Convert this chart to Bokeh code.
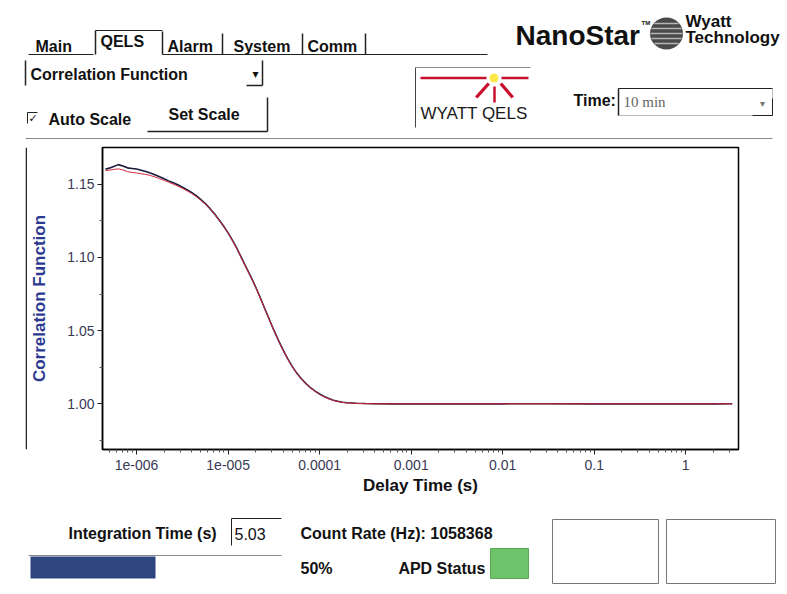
from bokeh.plotting import figure
from bokeh.layouts import column, row
from bokeh.models import FixedTicker, PrintfTickFormatter, Range1d
from bokeh.core.properties import value
from bokeh.embed import file_html
from bokeh.resources import INLINE

# ---------------- data ----------------
delay_time_s = [4.57e-7, 5.01e-7, 5.62e-7, 6.31e-7, 7.08e-7, 7.94e-7, 8.91e-7, 1.00e-6,
                1.12e-6, 1.26e-6, 1.41e-6, 1.58e-6, 1.78e-6, 2.00e-6, 2.24e-6, 2.51e-6,
                2.82e-6, 3.16e-6, 3.55e-6, 3.98e-6, 4.47e-6, 5.01e-6, 5.62e-6, 6.31e-6,
                7.08e-6, 7.94e-6, 8.91e-6, 1.00e-5, 1.12e-5, 1.26e-5, 1.41e-5, 1.58e-5,
                1.78e-5, 2.00e-5, 2.24e-5, 2.51e-5, 2.82e-5, 3.16e-5, 3.55e-5, 3.98e-5,
                4.47e-5, 5.01e-5, 5.62e-5, 6.31e-5, 7.08e-5, 7.94e-5, 8.91e-5, 1.00e-4,
                1.12e-4, 1.26e-4, 1.41e-4, 1.58e-4, 1.78e-4, 2.00e-4, 2.51e-4, 3.16e-4,
                3.98e-4, 6.31e-4, 1.00e-3, 3.16e-3, 1.00e-2, 3.16e-2, 1.00e-1, 3.16e-1,
                1.00, 2.00, 3.22]

g2_black = [1.1603, 1.1610, 1.1622, 1.1634, 1.1625, 1.1612, 1.1608, 1.1604,
            1.1596, 1.1587, 1.1577, 1.1565, 1.1551, 1.1537, 1.1523, 1.1510,
            1.1496, 1.1480, 1.1463, 1.1444, 1.1422, 1.1397, 1.1368, 1.1335,
            1.1298, 1.1258, 1.1215, 1.1168, 1.1115, 1.1056, 1.0993, 1.0930,
            1.0866, 1.0798, 1.0726, 1.0651, 1.0576, 1.0503, 1.0433, 1.0368,
            1.0309, 1.0256, 1.0210, 1.0171, 1.0138, 1.0110, 1.0087, 1.0067,
            1.0050, 1.0036, 1.0025, 1.0017, 1.0011, 1.0007, 1.0004, 1.0002,
            1.0001, 1.0000, 1.0001, 1.0000, 1.0000, 1.0001, 1.0000, 1.0000,
            1.0001, 1.0000, 1.0001]

g2_red = [1.1592, 1.1596, 1.1601, 1.1605, 1.1598, 1.1586, 1.1581, 1.1577,
          1.1572, 1.1567, 1.1560, 1.1550, 1.1538, 1.1526, 1.1514, 1.1501,
          1.1488, 1.1472, 1.1455, 1.1437, 1.1416, 1.1392, 1.1364, 1.1332,
          1.1296, 1.1256, 1.1213, 1.1166, 1.1113, 1.1054, 1.0991, 1.0928,
          1.0864, 1.0796, 1.0724, 1.0649, 1.0574, 1.0501, 1.0431, 1.0366,
          1.0307, 1.0254, 1.0208, 1.0169, 1.0136, 1.0108, 1.0085, 1.0065,
          1.0048, 1.0034, 1.0023, 1.0015, 1.0010, 1.0006, 1.0003, 1.0001,
          1.0000, 1.0000, 1.0000, 1.0000, 1.0000, 1.0000, 1.0000, 1.0000,
          1.0000, 1.0000, 1.0000]

x_ticks = [1e-6, 1e-5, 1e-4, 1e-3, 1e-2, 1e-1, 1.0]
x_tick_labels = ["1e-006", "1e-005", "0.0001", "0.001", "0.01", "0.1", "1"]
y_ticks = [1.00, 1.05, 1.10, 1.15]
y_minor_ticks = [0.975, 1.025, 1.075, 1.125]

# ---------------- layout (window pixel coordinates) ----------------
PW, PH = 787, 594
HEAD_H = 139            # header band: y 0..139
STRIP_W = 27            # panel left edge strip: x 0..27
MID_H = 374             # plot band: y 139..513
FOOT_H = PH - HEAD_H - MID_H
FL, FT, FR, FB = 99, 147, 738, 449   # plot frame edges in the window

x_minor = [m * d for d in [1e-7, 1e-6, 1e-5, 1e-4, 1e-3, 1e-2, 1e-1, 1.0] for m in range(2, 10)]

# ---------------- the chart ----------------
p = figure(width=PW - STRIP_W, height=MID_H, x_axis_type="log",
           x_range=Range1d(4.24e-7, 3.77), y_range=Range1d(0.9688, 1.1751),
           output_backend="svg", toolbar_location=None, title=None,
           min_border_left=FL - STRIP_W, min_border_right=PW - FR,
           min_border_top=FT - HEAD_H, min_border_bottom=HEAD_H + MID_H - FB)
p.background_fill_color = "white"
p.border_fill_color = "white"
p.outline_line_color = "black"
p.outline_line_width = 1.5
p.xgrid.visible = False
p.ygrid.visible = False

p.xaxis.ticker = FixedTicker(ticks=x_ticks, minor_ticks=x_minor)
p.xaxis.major_label_overrides = dict(zip(x_ticks, x_tick_labels))
p.yaxis.ticker = FixedTicker(ticks=y_ticks, minor_ticks=y_minor_ticks)
p.yaxis.formatter = PrintfTickFormatter(format="%.2f")

for ax in (p.xaxis, p.yaxis):
    ax.axis_line_color = "black"
    ax.axis_line_width = 1.5
    ax.major_tick_line_color = "#222222"
    ax.minor_tick_line_color = "#555555"
    ax.major_tick_in = 0
    ax.major_tick_out = 5
    ax.minor_tick_in = 0
    ax.minor_tick_out = 3
    ax.major_label_text_font = "Liberation Sans"
    ax.major_label_text_font_size = "14px"
    ax.major_label_text_color = "#3a3a55"
    ax.axis_label_text_font = "Liberation Sans"
    ax.axis_label_text_font_size = "17px"
    ax.axis_label_text_font_style = "bold"

p.xaxis.axis_label = "Delay Time (s)"
p.xaxis.axis_label_text_color = "#111111"
p.xaxis.major_label_standoff = 5
p.xaxis.axis_label_standoff = 3
p.yaxis.axis_label = "Correlation Function"
p.yaxis.axis_label_text_color = "#2b3990"
p.yaxis.major_label_standoff = 3
p.yaxis.axis_label_standoff = 15

p.line(delay_time_s, g2_black, line_color="#1a1a3a", line_width=1.6)
p.line(delay_time_s, g2_red, line_color="#d42a3c", line_width=1.0)


# ---------------- UI chrome (pixel-coordinate canvases) ----------------
def canvas(x0, y0, w, h):
    f = figure(width=w, height=h, x_range=Range1d(x0, x0 + w), y_range=Range1d(y0 + h, y0),
               min_border=0, x_axis_location=None, y_axis_location=None,
               toolbar_location=None, output_backend="svg", title=None)
    f.outline_line_color = None
    f.background_fill_color = "white"
    f.border_fill_color = "white"
    f.xgrid.visible = False
    f.ygrid.visible = False
    return f


def T(f, x, y, s, size=16, bold=True, color="#111111", align="left", font="Liberation Sans"):
    # y is the vertical centre of the capitals
    f.text(x=[x], y=[y], text=[s], text_font=value(font), text_font_size=f"{size}px",
           text_font_style="bold" if bold else "normal", text_color=color,
           text_align=align, text_baseline="middle")


def R(f, x0, y0, x1, y1, fill=None, line=None, lw=1):
    f.quad(left=[x0], right=[x1], top=[y0], bottom=[y1],
           fill_color=fill if fill else "white", fill_alpha=1.0 if fill else 0.0,
           line_color=line if line else "white", line_alpha=1.0 if line else 0.0,
           line_width=lw)


def HL(f, x0, x1, y, color, w=1):
    R(f, x0, y - w / 2, x1, y + w / 2, fill=color)


def VL(f, x, y0, y1, color, w=1):
    R(f, x - w / 2, y0, x + w / 2, y1, fill=color)


dark = "#222222"
grey = "#8a8a8a"
red = "#c8102e"

# ---- header ----
hd = canvas(0, 0, PW, HEAD_H)
# tabs
T(hd, 35, 46, "Main")
T(hd, 100, 41, "QELS")
T(hd, 167, 46, "Alarm")
T(hd, 233, 46, "System")
T(hd, 307, 46, "Comm")
HL(hd, 28, 93, 54, dark)
HL(hd, 162, 487, 54, dark)
VL(hd, 95, 30, 54, dark, 1.5)
HL(hd, 95, 162, 30, dark)
VL(hd, 162, 31, 54, dark, 1.5)
VL(hd, 222, 33, 54, dark, 1.5)
VL(hd, 302, 33, 54, dark, 1.5)
VL(hd, 365, 33, 54, dark, 1.5)
# plot-type dropdown
VL(hd, 25, 60, 85, dark, 1.5)
VL(hd, 262, 60, 85, dark, 1.5)
HL(hd, 246, 262, 85, dark, 1.5)
T(hd, 30, 74, "Correlation Function")
T(hd, 255, 73, "▾", size=12, align="center", font="DejaVu Sans")
# auto-scale checkbox and button
VL(hd, 27, 112, 123, dark)
HL(hd, 27, 37, 112, dark)
T(hd, 28, 118, "✓", size=11, font="DejaVu Sans")
T(hd, 48, 118.5, "Auto Scale")
T(hd, 168, 114, "Set Scale")
VL(hd, 267, 97, 131, dark, 1.5)
HL(hd, 147, 267, 131, dark, 1.5)
# WYATT QELS logo box
VL(hd, 415, 67, 127, "#444444")
HL(hd, 415, 530, 67, grey)
HL(hd, 420, 486, 77.5, red, 2.5)
HL(hd, 501, 528, 77.5, red, 2.5)
VL(hd, 494, 86, 102, red, 2.5)
hd.patch([487, 489.5, 477, 474.5], [82, 84, 98, 96], fill_color=red, line_color=None)
hd.patch([499, 501.5, 513.5, 511], [84, 82, 96, 98], fill_color=red, line_color=None)
hd.ellipse(x=[493.5], y=[77.5], width=[9], height=[9], fill_color="#ffe84a", line_color=None)
T(hd, 420, 113, "WYATT QELS", size=17, bold=False, color="#1a1a1a")
# time selector
T(hd, 573, 100, "Time:")
R(hd, 618, 88, 772, 115, line="#bbbbbb")
VL(hd, 618, 88, 115, dark, 1.5)
HL(hd, 618, 772, 88, dark)
VL(hd, 772, 98, 115, dark)
HL(hd, 752, 772, 115, dark)
T(hd, 623, 101, "10 min", size=15, bold=False, color="#666666", font="Liberation Serif")
T(hd, 762, 103, "▾", size=10, align="center", color="#777777", font="DejaVu Sans")
# NanoStar / Wyatt Technology brand
T(hd, 515, 35, "NanoStar", size=28)
T(hd, 641, 22, "TM", size=6)
hd.ellipse(x=[666], y=[33], width=[33], height=[32], fill_color="#4a4a4a", line_color=None)
for dy, half in [(-10, 12), (-5, 15), (0, 16), (5, 15), (10, 12)]:
    HL(hd, 666 - half, 666 + half, 33 + dy, "#b5b5b5", 1.5)
T(hd, 685, 21, "Wyatt", size=17)
T(hd, 685, 36.5, "Technology", size=17)
# panel top edge
HL(hd, 26, 772, 138, grey)
VL(hd, 26, 138, 139, dark, 1.5)

# ---- left strip of the plot band ----
st = canvas(0, HEAD_H, STRIP_W, MID_H)
VL(st, 26, HEAD_H, HEAD_H + MID_H, dark, 1.5)

# ---- footer / status bar ----
ft = canvas(0, HEAD_H + MID_H, PW, FOOT_H)
T(ft, 68, 533, "Integration Time (s)")
VL(ft, 231, 518, 545, dark)
HL(ft, 231, 281, 518, dark)
T(ft, 234, 533, "5.03", bold=False)
HL(ft, 28, 281, 555, grey)
R(ft, 30, 556, 155, 578, fill="#2e4680")
T(ft, 300, 533, "Count Rate (Hz): 1058368")
T(ft, 300, 567.5, "50%")
T(ft, 485, 567.5, "APD Status", align="right")
R(ft, 490, 548, 528, 578, fill="#6cc36a", line="#5aa85a")
R(ft, 552, 519, 658, 583, line="#777777")
R(ft, 666, 519, 775, 583, line="#777777")

page = column(hd, row(st, p, spacing=0), ft, spacing=0)
open("out.html", "w").write(file_html(page, INLINE))
